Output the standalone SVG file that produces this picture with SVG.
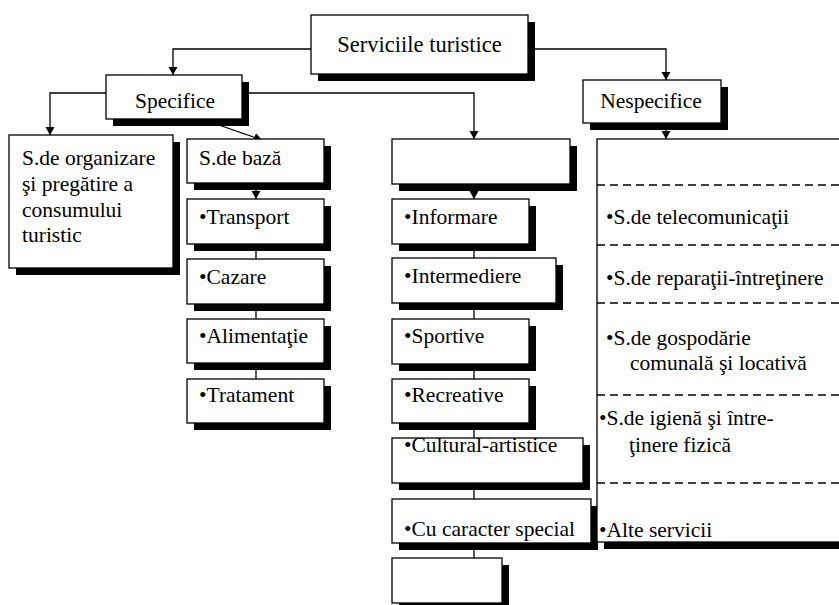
<svg xmlns="http://www.w3.org/2000/svg" width="839" height="605" viewBox="0 0 839 605">
<style>
.sh{fill:#000}
.bx{fill:#fff;stroke:#000;stroke-width:1.3}
.t{font-family:"Liberation Serif","Times New Roman",serif;font-size:21.5px;fill:#000}
.tt{font-family:"Liberation Serif","Times New Roman",serif;font-size:22.5px;fill:#000}
.c{fill:none;stroke:#000;stroke-width:1.3}
.d{fill:none;stroke:#000;stroke-width:1.3;stroke-dasharray:8 5}
</style>
<defs>
<marker id="ar" markerUnits="userSpaceOnUse" markerWidth="10" markerHeight="10" refX="8" refY="4.5" orient="auto">
<path d="M0,0 L8,4.5 L0,9 z" fill="#000"/>
</marker>
</defs>
<rect width="839" height="605" fill="#fff"/>
<g id="connectors">
<path class="c" d="M311,49 H173 V75" marker-end="url(#ar)"/>
<path class="c" d="M528,49 H666 V80" marker-end="url(#ar)"/>
<path class="c" d="M106,93 H50 V135" marker-end="url(#ar)"/>
<path class="c" d="M242,93 H474 V139" marker-end="url(#ar)"/>
<path class="c" d="M213,123 L262,140" marker-end="url(#ar)"/>
<path class="c" d="M666,124 V139" marker-end="url(#ar)"/>
<path class="c" d="M256,183 V199" marker-end="url(#ar)"/>
<path class="c" d="M256,244 V259 M256,304 V319 M256,363 V379"/>
<path class="c" d="M474,184 V199" marker-end="url(#ar)"/>
<path class="c" d="M474,244 V258 M474,303 V319 M474,364 V379 M474,423 V438 M474,483 V499 M474,543 V558"/>
</g>
<g id="n-servicii">
<rect class="sh" x="318" y="22" width="217" height="59"/>
<rect class="bx" x="311" y="15" width="217" height="59"/>
<text class="tt" x="419.5" y="52" text-anchor="middle">Serviciile turistice</text>
</g>
<g id="n-specifice">
<rect class="sh" x="113" y="82" width="136" height="44"/>
<rect class="bx" x="106" y="75" width="136" height="44"/>
<text class="t" x="175" y="108" text-anchor="middle">Specifice</text>
</g>
<g id="n-nespecifice">
<rect class="sh" x="590" y="87" width="138" height="43"/>
<rect class="bx" x="583" y="80" width="138" height="43"/>
<text class="t" x="651" y="108" text-anchor="middle">Nespecifice</text>
</g>
<g id="n-organizare">
<rect class="sh" x="16" y="142" width="164" height="133"/>
<rect class="bx" x="9" y="135" width="164" height="133"/>
<text class="t" x="22" y="165">S.de organizare</text>
<text class="t" x="22" y="191">şi pregătire a</text>
<text class="t" x="22" y="217">consumului</text>
<text class="t" x="22" y="242">turistic</text>
</g>
<g id="n-baza">
<rect class="sh" x="194" y="146" width="137" height="44"/>
<rect class="bx" x="187" y="139" width="137" height="44"/>
<text class="t" x="199" y="165">S.de bază</text>
</g>
<g id="n-transport">
<rect class="sh" x="194" y="206" width="137" height="45"/>
<rect class="bx" x="187" y="199" width="137" height="45"/>
<text class="t" x="199" y="224">•Transport</text>
</g>
<g id="n-cazare">
<rect class="sh" x="194" y="266" width="137" height="45"/>
<rect class="bx" x="187" y="259" width="137" height="45"/>
<text class="t" x="199" y="284">•Cazare</text>
</g>
<g id="n-alimentatie">
<rect class="sh" x="194" y="326" width="137" height="44"/>
<rect class="bx" x="187" y="319" width="137" height="44"/>
<text class="t" x="199" y="343">•Alimentaţie</text>
</g>
<g id="n-tratament">
<rect class="sh" x="194" y="386" width="137" height="44"/>
<rect class="bx" x="187" y="379" width="137" height="44"/>
<text class="t" x="199" y="402">•Tratament</text>
</g>
<g id="n-empty1">
<rect class="sh" x="399" y="146" width="178" height="45"/>
<rect class="bx" x="392" y="139" width="178" height="45"/>
</g>
<g id="n-informare">
<rect class="sh" x="399" y="206" width="137" height="45"/>
<rect class="bx" x="392" y="199" width="137" height="45"/>
<text class="t" x="404" y="224">•Informare</text>
</g>
<g id="n-intermediere">
<rect class="sh" x="399" y="265" width="164" height="45"/>
<rect class="bx" x="392" y="258" width="164" height="45"/>
<text class="t" x="404" y="283">•Intermediere</text>
</g>
<g id="n-sportive">
<rect class="sh" x="399" y="326" width="137" height="45"/>
<rect class="bx" x="392" y="319" width="137" height="45"/>
<text class="t" x="404" y="343">•Sportive</text>
</g>
<g id="n-recreative">
<rect class="sh" x="399" y="386" width="137" height="44"/>
<rect class="bx" x="392" y="379" width="137" height="44"/>
<text class="t" x="404" y="402">•Recreative</text>
</g>
<g id="n-cultural">
<rect class="sh" x="399" y="445" width="191" height="45"/>
<rect class="bx" x="392" y="438" width="191" height="45"/>
<text class="t" x="404" y="452">•Cultural-artistice</text>
</g>
<g id="n-special">
<rect class="sh" x="399" y="506" width="199" height="44"/>
<rect class="bx" x="392" y="499" width="199" height="44"/>
<text class="t" x="404" y="536">•Cu caracter special</text>
</g>
<g id="n-empty2">
<rect class="sh" x="399" y="565" width="110" height="45"/>
<rect class="bx" x="392" y="558" width="110" height="45"/>
</g>
<g id="n-nespecifice-list">
<rect class="sh" x="604" y="146" width="250" height="403"/>
<rect class="bx" x="597" y="139" width="250" height="403"/>
<path class="d" d="M597,185 H845 M597,245 H845 M597,303 H845 M597,395 H845 M597,483 H845"/>
<text class="t" x="606" y="224">•S.de telecomunicaţii</text>
<text class="t" x="606" y="285">•S.de reparaţii-întreţinere</text>
<text class="t" x="606" y="345">•S.de gospodărie</text>
<text class="t" x="630" y="370">comunală şi locativă</text>
<text class="t" x="599" y="425">•S.de igienă şi între-</text>
<text class="t" x="629" y="452">ţinere fizică</text>
<text class="t" x="599" y="537">•Alte servicii</text>
</g>
</svg>
